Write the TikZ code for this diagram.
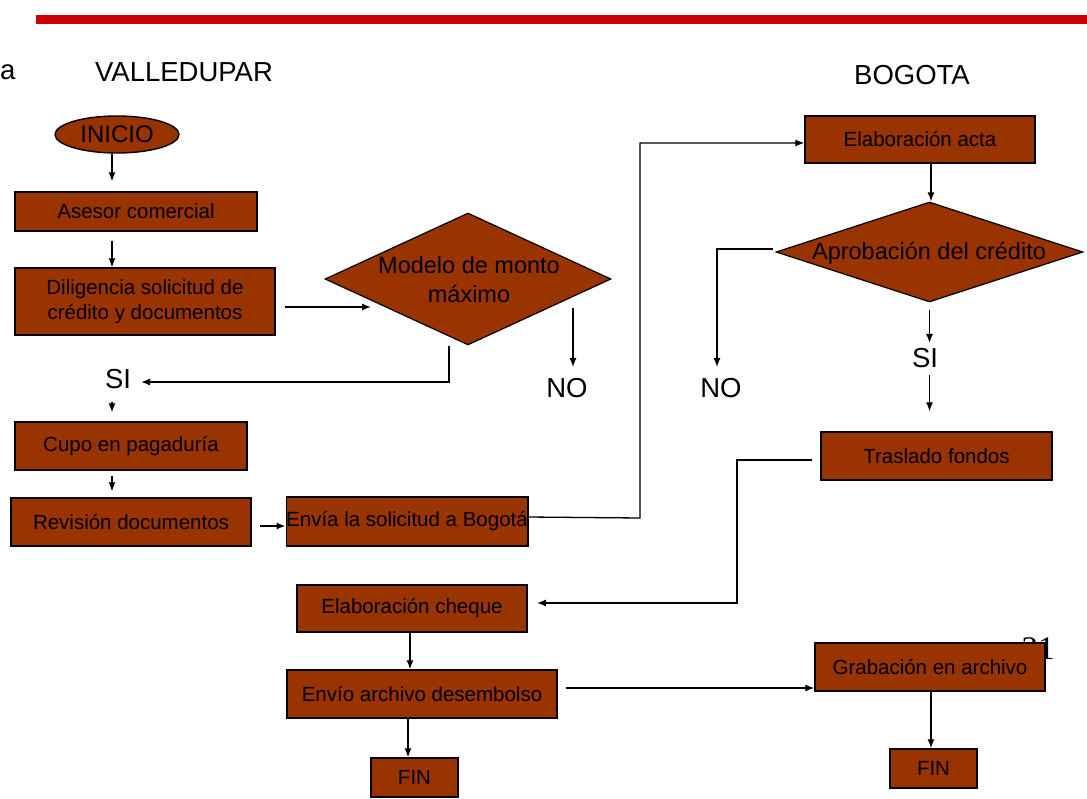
\documentclass[tikz,border=0pt]{standalone}
\usepackage{fontspec}
\setmainfont{Liberation Sans}
\newfontfamily\seriffont{Liberation Serif}
\usetikzlibrary{shapes.geometric,arrows.meta}
\definecolor{boxbrown}{HTML}{993300}
\definecolor{barred}{HTML}{CC0000}
\begin{document}
\begin{tikzpicture}[x=1pt,y=-1pt,
  box/.style={draw=black,line width=1.4pt,fill=boxbrown,inner sep=0pt,align=center,font=\fontsize{20.5}{25}\selectfont},
  dia/.style={diamond,draw=black,line width=1.2pt,fill=boxbrown,inner sep=0pt},
  diatext/.style={inner sep=0pt,align=center,font=\fontsize{23.5}{29}\selectfont},
  lbl/.style={inner sep=0pt,font=\fontsize{27.5}{30}\selectfont},
  arr/.style={line width=1.3pt,-{Latex[length=9pt,width=7pt]}},
  ln/.style={line width=1.3pt}]
\useasboundingbox (0,0) rectangle (1087,799);
\fill[barred] (36,15) rectangle (1087,24);
\node[lbl,anchor=west] (a) at (0,72) {a};
\node[lbl] (vall) at (184,72) {VALLEDUPAR};
\node[lbl] (bog) at (912,75) {BOGOTA};
\node[inner sep=0pt,font=\seriffont\fontsize{33}{34}\selectfont] (n21) at (1038,649) {21};
% nodes
\node[ellipse,draw=black,line width=1.4pt,fill=boxbrown,minimum width=124pt,minimum height=37pt,inner sep=0pt,font=\fontsize{24}{26}\selectfont] (inicio) at (117,134.5) {INICIO};
\node[box,minimum width=242pt,minimum height=39pt] (asesor) at (136,211.5) {Asesor comercial};
\node[box,minimum width=260pt,minimum height=67pt] (dilig) at (145,301.5) {Diligencia solicitud de\\crédito y documentos};
\node[dia,minimum width=286pt,minimum height=132pt] (modelo) at (468,279) {};
\node[diatext] (modelot) at (469,280) {Modelo de monto\\máximo};
\node[lbl] (siL) at (118,379) {SI};
\node[lbl] (noL) at (567,388) {NO};
\node[box,minimum width=232pt,minimum height=48pt] (cupo) at (131,446) {Cupo en pagaduría};
\node[box,minimum width=240pt,minimum height=48pt] (revision) at (131,522) {Revisión documentos};
\node[box,minimum width=240pt,minimum height=49pt] (envia) at (407,521.5) {Envía la solicitud a Bogotá};
\node[box,minimum width=230pt,minimum height=47pt] (acta) at (920,139.5) {Elaboración acta};
\node[dia,minimum width=307pt,minimum height=100pt] (aprob) at (929.5,252) {};
\node[diatext] (aprobt) at (929,253) {Aprobación del crédito};
\node[lbl] (noR) at (721,388) {NO};
\node[lbl] (siR) at (925,358) {SI};
\node[box,minimum width=231pt,minimum height=48pt] (traslado) at (936.5,456) {Traslado fondos};
\node[box,minimum width=230pt,minimum height=47pt] (cheque) at (412,608.5) {Elaboración cheque};
\node[box,minimum width=270pt,minimum height=48pt] (envio) at (422,694) {Envío archivo desembolso};
\node[box,minimum width=230pt,minimum height=48pt] (grab) at (930,667) {Grabación en archivo};
\node[box,minimum width=87pt,minimum height=39pt] (finR) at (933.5,768.5) {FIN};
\node[box,minimum width=87pt,minimum height=39pt] (finL) at (414.5,777.5) {FIN};
% helper coordinates
\coordinate (vA) at (112,0);
\coordinate (mIn) at (371,307);
\coordinate (mOut) at (285,307);
\coordinate (mS) at (449,346);
\coordinate (siIn) at (141,382);
\coordinate (noTop) at (573,308);
\coordinate (noEnd) at (573,367);
\coordinate (eOut) at (527,517);
\coordinate (eTurn) at (640,518);
\coordinate (vB) at (931,0);
\coordinate (aL) at (773,249);
\coordinate (noREnd) at (717,367);
\coordinate (tL) at (812,460);
\coordinate (tTurn) at (737,460);
\coordinate (cIn) at (537,603);
\coordinate (vC) at (410,0);
\coordinate (vD) at (408,0);
\coordinate (hE) at (0,688);
% connectors
\draw[arr,shorten >=10pt] (inicio.south -| vA) -- (asesor.north -| vA);
\draw[arr,shorten <=9pt] (asesor.south -| vA) -- (dilig.north -| vA);
\draw[arr] (mOut) -- (mIn);
\draw[arr] (mS) |- (siIn);
\draw[arr] (noTop) -- (noEnd);
\draw[arr,shorten <=13pt,shorten >=9pt] (siL.south -| vA) -- (cupo.north -| vA);
\draw[arr,shorten <=5pt,shorten >=6pt] (cupo.south -| vA) -- (revision.north -| vA);
\draw[arr,shorten <=8pt] (revision.east |- 0,526) -- (envia.west |- 0,526);
\draw[arr] (eOut) -- (eTurn) |- (acta.west |- 0,143);
\draw[arr] (acta.south -| vB) -- (aprob.north -| vB);
\draw[arr] (aL) -| (noREnd);
\draw[arr,shorten <=7pt,shorten >=2pt] (aprob.south) -- (aprob.south |- 0,345);
\draw[arr,shorten >=20pt] (aprob.south |- 0,375) -- (traslado.north -| aprob.south);
\draw[arr] (tL) -- (tTurn) |- (cIn);
\draw[arr] (cheque.south -| vC) -- (envio.north -| vC);
\draw[arr,shorten <=8pt] (envio.east |- hE) -- (grab.west |- hE);
\draw[arr] (grab.south -| vB) -- (finR.north -| vB);
\draw[arr] (envio.south -| vD) -- (finL.north -| vD);
\end{tikzpicture}
\end{document}
